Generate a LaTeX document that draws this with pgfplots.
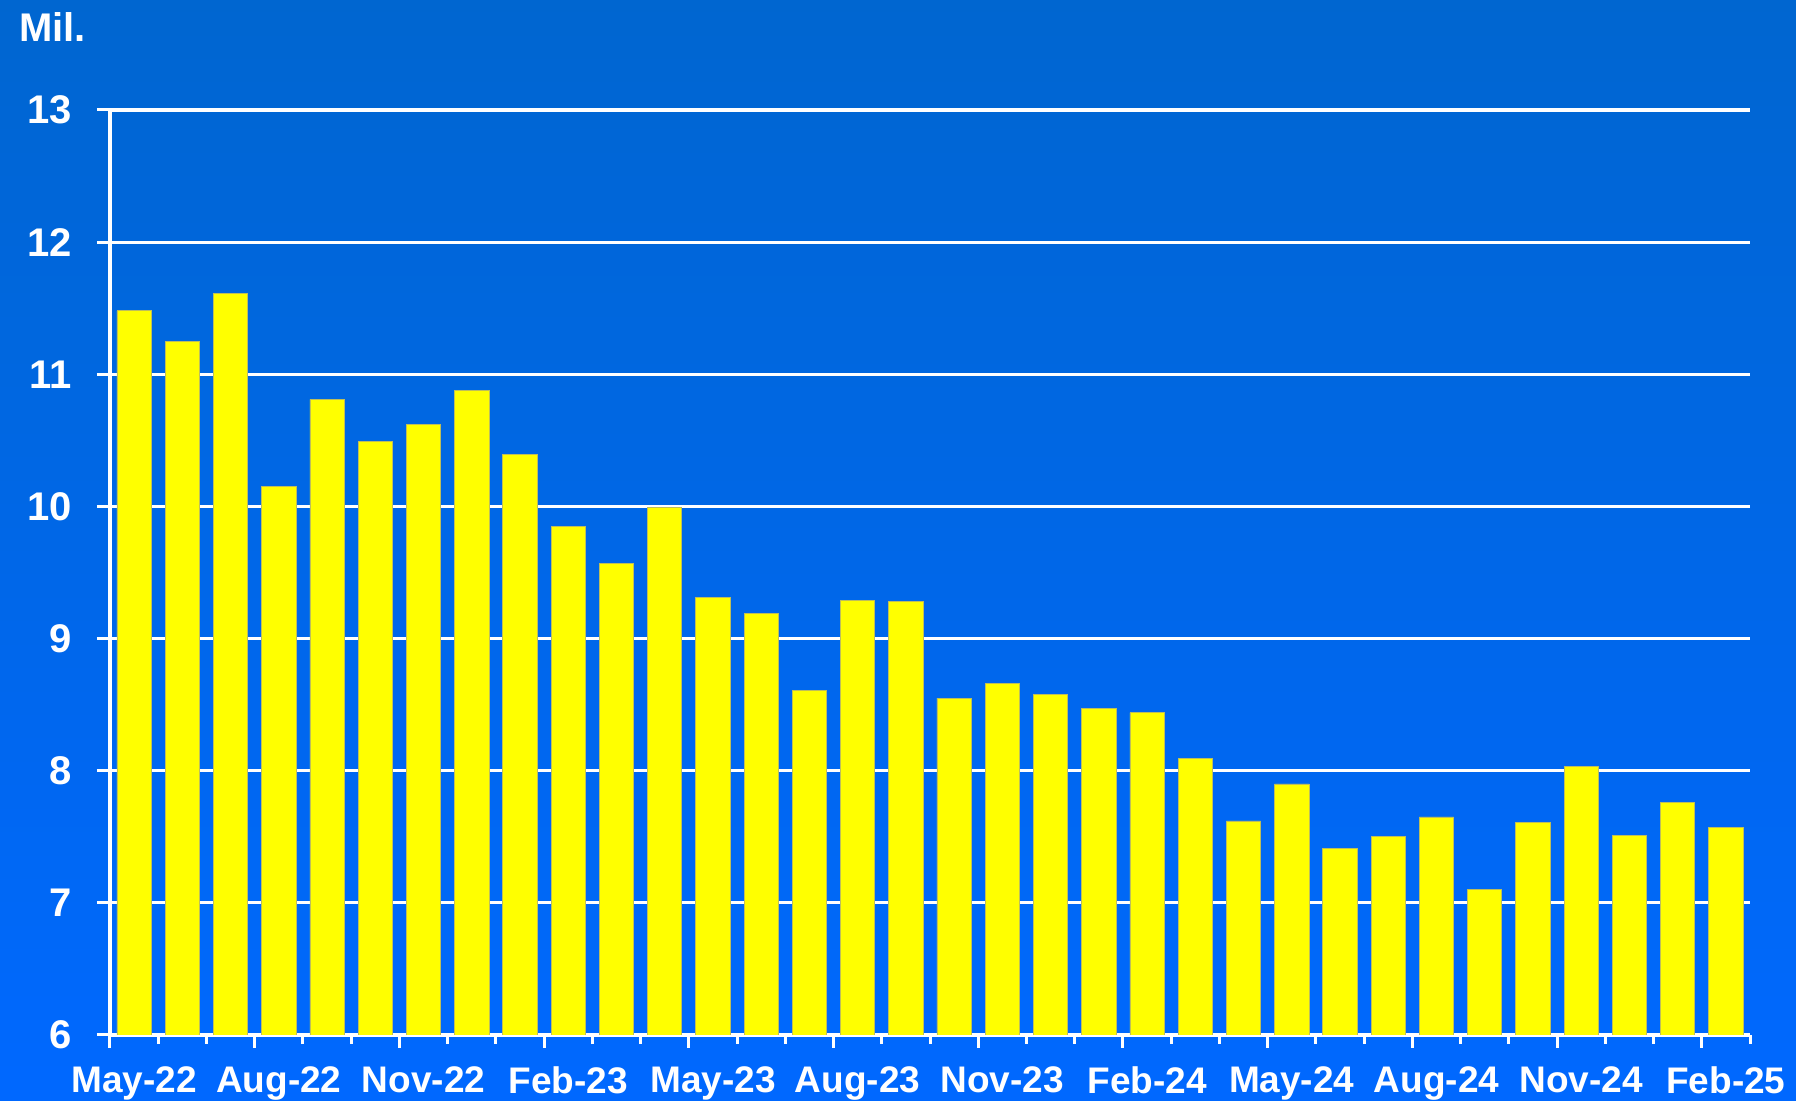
\documentclass[border=0pt]{standalone}
\usepackage{pgfplots}
\pgfplotsset{compat=1.18}
\usepackage{pgfplotstable}
\usepackage{fontspec}
\setmainfont{Liberation Sans}

\definecolor{bgtop}{RGB}{0,102,208}
\definecolor{bgbot}{RGB}{0,104,255}
\definecolor{baryellow}{RGB}{255,255,0}
\definecolor{baredge}{RGB}{190,190,90}

% Monthly values, millions (May-22 = 0 ... Feb-25 = 33)
\pgfplotstableread{
idx val
0 11.48
1 11.25
2 11.61
3 10.15
4 10.81
5 10.49
6 10.62
7 10.88
8 10.39
9 9.85
10 9.57
11 9.99
12 9.31
13 9.19
14 8.61
15 9.29
16 9.28
17 8.55
18 8.66
19 8.58
20 8.47
21 8.44
22 8.09
23 7.62
24 7.90
25 7.41
26 7.50
27 7.65
28 7.10
29 7.61
30 8.03
31 7.51
32 7.76
33 7.57
}\monthly

\begin{document}
\begin{tikzpicture}
\shade[top color=bgtop, bottom color=bgbot] (0,0) rectangle (898pt,550.5pt);
\useasboundingbox (0,0) rectangle (898pt,550.5pt);
\begin{axis}[
  at={(55pt,33pt)}, anchor=south west,
  scale only axis, width=820pt, height=462.5pt,
  xmin=-0.5, xmax=33.5, ymin=6, ymax=13,
  axis x line*=bottom, axis y line*=left,
  axis line style={white, line width=1.6pt},
  ybar, bar width=17.15pt,
  ytick={6,...,13},
  ymajorgrids, major grid style={white, line width=1.6pt},
  xtick={-0.5,2.5,...,32.5},
  minor xtick={-0.5,0.5,...,33.5},
  xticklabels={May-22,Aug-22,Nov-22,Feb-23,May-23,Aug-23,Nov-23,Feb-24,May-24,Aug-24,Nov-24,Feb-25},
  tick align=outside, major tick length=6.5pt, minor tick length=4.5pt,
  every tick/.style={white, line width=1.5pt},
  xticklabel style={xshift=12.05pt, yshift=-5.8pt, white, font=\bfseries\fontsize{18.5}{20}\selectfont},
  yticklabel style={xshift=-9pt, white, font=\bfseries\fontsize{20}{22}\selectfont},
  /pgf/number format/assume math mode=true,
]
\addplot[fill=baryellow, draw=baredge, line width=0.4pt] table[x=idx, y=val] {\monthly};
\end{axis}
\node[anchor=base west, white, inner sep=0pt, font=\bfseries\fontsize{20}{24}\selectfont] at (9.5pt,529.5pt) {Mil.};
\end{tikzpicture}
\end{document}
